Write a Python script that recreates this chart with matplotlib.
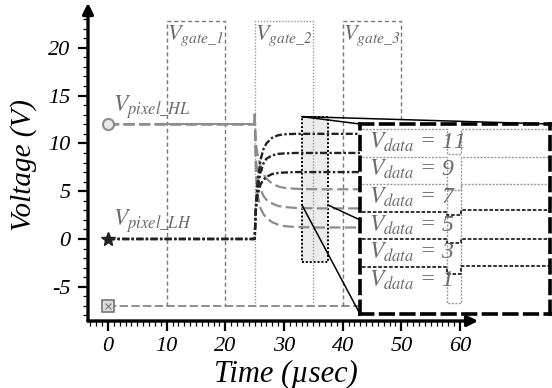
import matplotlib
matplotlib.use('Agg')
import matplotlib.pyplot as plt
from matplotlib.patches import Rectangle, ConnectionPatch
from matplotlib.ticker import FixedLocator

plt.rcParams['mathtext.fontset'] = 'stix'
plt.rcParams['font.family'] = ['Liberation Serif', 'DejaVu Serif']
plt.rcParams['font.style'] = 'italic'
plt.rcParams['axes.unicode_minus'] = False

# ---------------- data ----------------
x_major = [0, 10, 20, 30, 40, 50, 60]
y_major = [-5, 0, 5, 10, 15, 20]
x_minor = list(range(-3, 61))
y_minor = list(range(-8, 24))

hold_t = [0, 25]
hl_start = 12.0
lh_start = 0.0
gate_low = -7.0
gate_high = 22.8
gate_windows = [(10, 20), (25, 35), (40, 50)]
gate_names = [r'$V_{gate\_1}$', r'$V_{gate\_2}$', r'$V_{gate\_3}$']
gate_styles = [(0, (3, 2)), (0, (1, 1.2)), (0, (3, 2))]
gate_colors = ['#7a7a7a', '#9a9a9a', '#7a7a7a']

settle_t = [25.0, 25.2, 25.5, 26.0, 26.5, 27.0, 28.0, 29.0, 30.0, 32.0, 36.0, 60.0]
lh_curves = {
    11: [0, 3.5, 6.0, 8.3, 9.4, 10.0, 10.6, 10.85, 10.95, 11.0, 11.0, 11.0],
    9:  [0, 3.2, 5.3, 7.0, 7.9, 8.4, 8.75, 8.9, 8.95, 9.0, 9.0, 9.0],
    7:  [0, 3.0, 4.6, 5.7, 6.2, 6.5, 6.8, 6.9, 6.95, 7.0, 7.0, 7.0],
}
hl_curves = {
    5: [13.0, 10.0, 8.8, 7.6, 6.8, 6.3, 5.8, 5.5, 5.35, 5.25, 5.2, 5.2],
    3: [13.0, 8.5, 6.6, 5.2, 4.5, 4.1, 3.7, 3.45, 3.35, 3.25, 3.2, 3.2],
    1: [13.0, 7.0, 4.6, 3.2, 2.6, 2.2, 1.75, 1.5, 1.35, 1.25, 1.2, 1.2],
}

# zoom window (main-axes data units)
box_t = (33.05, 37.5)
box_v = (-2.4, 12.8)
link_v = 3.56

# inset (zoomed) levels
inset_gray_levels = [11, 9, 7]
inset_gray_dips = [9.2, 6.6, -1.6]
inset_dark_levels = [5, 3, 1]
inset_dark_dips = [4.8, 2.75, 0.5]
inset_dark_after = [5.1, 3.05, 1.05]
inset_labels = [11, 9, 7, 5, 3, 1]
notch = (0.458, 0.532)

# ---------------- figure ----------------
W, H = 552, 388
fig = plt.figure(figsize=(W / 100, H / 100), dpi=100)
ax = fig.add_axes([88 / W, (H - 321) / H, 464 / W, 321 / H])
ax.set_xlim(-3.41, 75.68)
ax.set_ylim(-8.58, 25.0)
for s in ax.spines.values():
    s.set_visible(False)

ax.xaxis.set_major_locator(FixedLocator(x_major))
ax.xaxis.set_minor_locator(FixedLocator(x_minor))
ax.yaxis.set_major_locator(FixedLocator(y_major))
ax.yaxis.set_minor_locator(FixedLocator(y_minor))
ax.tick_params(which='major', length=7.5, width=1.6, direction='out')
ax.tick_params(which='minor', length=3.5, width=0.9, direction='out')
ax.tick_params(axis='y', which='major', labelsize=16, pad=5)
ax.tick_params(axis='x', which='major', labelsize=16, pad=4)

# axis arrows
ax.annotate('', xy=(-3.41, 24.7), xytext=(-3.41, -8.58),
            arrowprops=dict(arrowstyle='-|>', lw=2.4, color='black',
                            mutation_scale=16, shrinkA=0, shrinkB=0),
            annotation_clip=False)
ax.annotate('', xy=(63.1, -8.58), xytext=(-3.41, -8.58),
            arrowprops=dict(arrowstyle='-|>', lw=2.4, color='black',
                            mutation_scale=16, shrinkA=0, shrinkB=0),
            annotation_clip=False)

# zoom window shading
ax.add_patch(Rectangle((box_t[0], box_v[0]), box_t[1] - box_t[0], box_v[1] - box_v[0],
                       facecolor='#ececec', edgecolor='black', linestyle=(0, (1, 1)),
                       lw=1.4, zorder=1))

# gate waveforms
for (a, b), name, ls, c in zip(gate_windows, gate_names, gate_styles, gate_colors):
    ax.plot([a, a, b, b], [gate_low, gate_high, gate_high, gate_low],
            color=c, ls=ls, lw=1.0, zorder=2)
    ax.text(a + 0.1, gate_high - 0.3, name, fontsize=16, color='#6a6a6a',
            va='top', ha='left', zorder=3)
ax.plot([0, 60], [gate_low, gate_low], color='#7a7a7a', ls=(0, (5, 2)), lw=1.2, zorder=2)
ax.plot([0], [gate_low], marker='s', ms=8, mfc='#dddddd', mec='#777777', mew=1.2, zorder=4)
ax.plot([0], [gate_low], marker='x', ms=4, mec='#777777', mew=0.8, zorder=5)

# pixel voltage curves
for lvl, vals in hl_curves.items():
    ax.plot(hold_t + settle_t, [hl_start, hl_start] + vals, color='#8c8c8c',
            ls=(0, (5, 2)), lw=1.6, zorder=3)
ax.plot([10, 25], [hl_start, hl_start], color='#8c8c8c', lw=1.4, zorder=3)
for lvl, vals in lh_curves.items():
    ax.plot(hold_t + settle_t, [lh_start, lh_start] + vals, color='#222222',
            ls=(0, (3, 1, 1, 1)), lw=1.7, zorder=4)
ax.plot([0], [hl_start], marker='o', ms=8, mfc='#e8e8e8', mec='#8c8c8c', mew=1.5, zorder=5)
ax.plot([0], [lh_start], marker='*', ms=10, color='#222222', zorder=5)

ax.text(0.8, 12.35, r'$V_{pixel\_HL}$', fontsize=17, color='#6a6a6a', va='bottom')
ax.text(0.8, 0.45, r'$V_{pixel\_LH}$', fontsize=17, color='#6a6a6a', va='bottom')

# axis labels
fig.text(24 / W, 1 - 165 / H, 'Voltage (V)', rotation=90, ha='center', va='center',
         fontsize=21)
fig.text(286 / W, 1 - 374 / H, 'Time (µsec)', ha='center', va='center',
         fontsize=22)

# ---------------- inset ----------------
axi = fig.add_axes([360 / W, (H - 314) / H, 190 / W, 190 / H], zorder=10)
axi.set_xlim(0, 1)
axi.set_ylim(-2.41, 11.36)
axi.set_xticks([])
axi.set_yticks([])
for s in axi.spines.values():
    s.set_linestyle((0, (3.5, 2.2)))
    s.set_linewidth(2.6)
    s.set_color('black')

for L, d in zip(inset_gray_levels, inset_gray_dips):
    axi.plot([0.01, notch[0], notch[0], notch[1], notch[1], 1.0],
             [L, L, d, d, L, L], color='#9a9a9a', ls=(0, (1.5, 1)), lw=1.0)
for L, d, r in zip(inset_dark_levels, inset_dark_dips, inset_dark_after):
    axi.plot([0.01, notch[0], notch[0], notch[1], notch[1], 1.0],
             [L, L, d, d, r, r], color='#222222', ls=(0, (2, 1)), lw=1.3)
for L in inset_labels:
    axi.text(0.045, L - 0.95, r'$V_{data}$ = ' + str(L), fontsize=17, color='#6a6a6a',
             va='center', ha='left')

# connector lines
links = [((box_t[0], box_v[1]), (0, 1)),
         ((box_t[0], box_v[1]), (1, 1)),
         ((box_t[0], link_v), (0, 0)),
         ((box_t[1], link_v), (0, 0.495))]
for pa, pb in links:
    con = ConnectionPatch(xyA=pa, coordsA=ax.transData, xyB=pb, coordsB=axi.transAxes,
                          color='black', lw=1.1)
    con.set_zorder(20)
    fig.add_artist(con)

fig.savefig('out.png', dpi=100)
